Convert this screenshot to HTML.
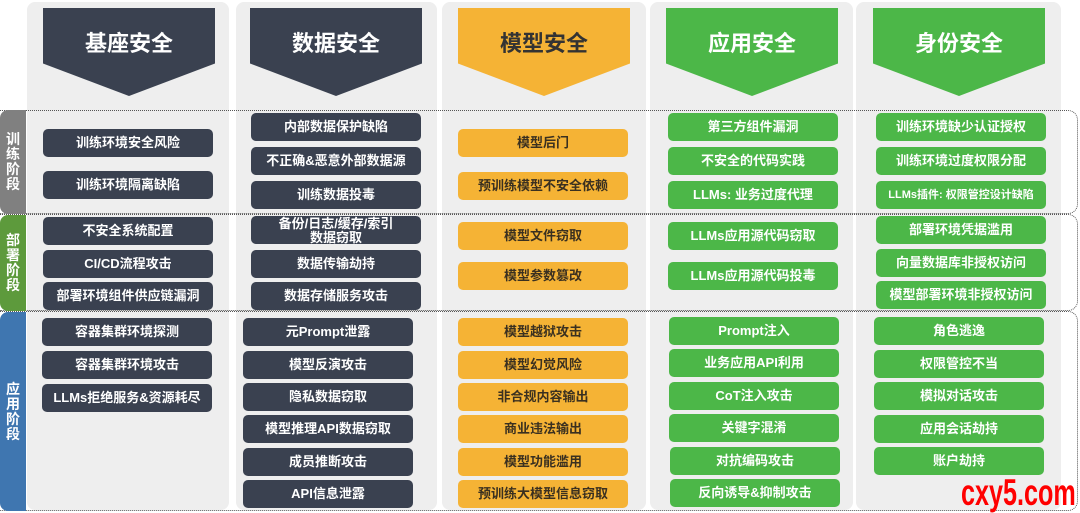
<!DOCTYPE html>
<html><head><meta charset="utf-8"><style>
*{margin:0;padding:0;box-sizing:border-box}
body{width:1080px;height:512px;background:#fff;position:relative;overflow:hidden;font-family:"Liberation Sans","Noto Sans CJK SC",sans-serif}
.p{position:absolute;top:2px;height:508px;background:#eeeeee;border-radius:8px}
.h{position:absolute;top:8px;width:172px;height:88px;clip-path:polygon(0 0,100% 0,100% 63%,50% 100%,0 63%);color:#fff;font-weight:bold;font-size:22px;text-align:center;line-height:72px}
.b{position:absolute;width:170px;height:28px;border-radius:5px;color:#fff;font-weight:bold;font-size:13px;text-align:center;line-height:28px;white-space:nowrap}
.d{background:#3a4150}.o{background:#f5b335;color:#3a3020}.g{background:#4cb748}
.band{position:absolute;left:0;width:1078px;border:1px dotted #555;border-left:none;border-radius:0 10px 10px 0}
.tab{position:absolute;left:0;width:26px;color:#fff;font-weight:bold;font-size:14px;line-height:15px;text-align:center;border-radius:8px 0 0 8px;display:flex;align-items:center;justify-content:center}
</style></head><body>
<div class="p" style="left:27px;width:202px"></div>
<div class="p" style="left:236px;width:201px"></div>
<div class="p" style="left:442px;width:204px"></div>
<div class="p" style="left:650px;width:203px"></div>
<div class="p" style="left:856px;width:205px"></div>

<div class="band" style="top:110px;height:104px"></div>
<div class="band" style="top:214px;height:97px"></div>
<div class="band" style="top:311px;height:200px"></div>
<div class="tab" style="top:110px;height:104px;background:#808080">训<br>练<br>阶<br>段</div>
<div class="tab" style="top:215px;height:96px;background:#5d9a3c">部<br>署<br>阶<br>段</div>
<div class="tab" style="top:312px;height:199px;background:#3f76b0">应<br>用<br>阶<br>段</div>

<div class="h d" style="left:43px">基座安全</div>
<div class="h d" style="left:250px">数据安全</div>
<div class="h o" style="left:458px;color:#333">模型安全</div>
<div class="h g" style="left:666px">应用安全</div>
<div class="h g" style="left:873px">身份安全</div>

<!-- col1 -->
<div class="b d" style="left:43px;top:129px">训练环境安全风险</div>
<div class="b d" style="left:43px;top:171px">训练环境隔离缺陷</div>
<div class="b d" style="left:43px;top:217px">不安全系统配置</div>
<div class="b d" style="left:43px;top:250px">CI/CD流程攻击</div>
<div class="b d" style="left:43px;top:282px">部署环境组件供应链漏洞</div>
<div class="b d" style="left:42px;top:318px">容器集群环境探测</div>
<div class="b d" style="left:42px;top:351px">容器集群环境攻击</div>
<div class="b d" style="left:42px;top:384px">LLMs拒绝服务&amp;资源耗尽</div>
<!-- col2 -->
<div class="b d" style="left:251px;top:113px">内部数据保护缺陷</div>
<div class="b d" style="left:251px;top:147px">不正确&amp;恶意外部数据源</div>
<div class="b d" style="left:251px;top:181px">训练数据投毒</div>
<div class="b d" style="left:251px;top:216px;line-height:14px;padding-top:1px">备份/日志/缓存/索引<br>数据窃取</div>
<div class="b d" style="left:251px;top:250px">数据传输劫持</div>
<div class="b d" style="left:251px;top:282px">数据存储服务攻击</div>
<div class="b d" style="left:243px;top:318px">元Prompt泄露</div>
<div class="b d" style="left:243px;top:351px">模型反演攻击</div>
<div class="b d" style="left:243px;top:383px">隐私数据窃取</div>
<div class="b d" style="left:243px;top:415px">模型推理API数据窃取</div>
<div class="b d" style="left:243px;top:448px">成员推断攻击</div>
<div class="b d" style="left:243px;top:480px">API信息泄露</div>
<!-- col3 -->
<div class="b o" style="left:458px;top:129px">模型后门</div>
<div class="b o" style="left:458px;top:172px">预训练模型不安全依赖</div>
<div class="b o" style="left:458px;top:222px">模型文件窃取</div>
<div class="b o" style="left:458px;top:262px">模型参数篡改</div>
<div class="b o" style="left:458px;top:318px">模型越狱攻击</div>
<div class="b o" style="left:458px;top:351px">模型幻觉风险</div>
<div class="b o" style="left:458px;top:383px">非合规内容输出</div>
<div class="b o" style="left:458px;top:415px">商业违法输出</div>
<div class="b o" style="left:458px;top:448px">模型功能滥用</div>
<div class="b o" style="left:458px;top:480px">预训练大模型信息窃取</div>
<!-- col4 -->
<div class="b g" style="left:668px;top:113px">第三方组件漏洞</div>
<div class="b g" style="left:668px;top:147px">不安全的代码实践</div>
<div class="b g" style="left:668px;top:181px">LLMs: 业务过度代理</div>
<div class="b g" style="left:668px;top:222px">LLMs应用源代码窃取</div>
<div class="b g" style="left:668px;top:262px">LLMs应用源代码投毒</div>
<div class="b g" style="left:669px;top:317px">Prompt注入</div>
<div class="b g" style="left:669px;top:349px">业务应用API利用</div>
<div class="b g" style="left:669px;top:382px">CoT注入攻击</div>
<div class="b g" style="left:669px;top:414px">关键字混淆</div>
<div class="b g" style="left:670px;top:447px">对抗编码攻击</div>
<div class="b g" style="left:670px;top:479px">反向诱导&amp;抑制攻击</div>
<!-- col5 -->
<div class="b g" style="left:876px;top:113px">训练环境缺少认证授权</div>
<div class="b g" style="left:876px;top:147px">训练环境过度权限分配</div>
<div class="b g" style="left:876px;top:181px;font-size:11px">LLMs插件: 权限管控设计缺陷</div>
<div class="b g" style="left:876px;top:216px">部署环境凭据滥用</div>
<div class="b g" style="left:876px;top:249px">向量数据库非授权访问</div>
<div class="b g" style="left:876px;top:281px">模型部署环境非授权访问</div>
<div class="b g" style="left:874px;top:317px">角色逃逸</div>
<div class="b g" style="left:874px;top:350px">权限管控不当</div>
<div class="b g" style="left:874px;top:382px">模拟对话攻击</div>
<div class="b g" style="left:874px;top:415px">应用会话劫持</div>
<div class="b g" style="left:874px;top:447px">账户劫持</div>

<div style="position:absolute;left:961px;top:473px;width:170px;height:40px;font-weight:bold;font-size:37px;color:#f00;line-height:40px;transform:scaleX(0.68);transform-origin:left center;font-family:'Liberation Sans Narrow','Liberation Sans',sans-serif">cxy5.com</div>
</body></html>
